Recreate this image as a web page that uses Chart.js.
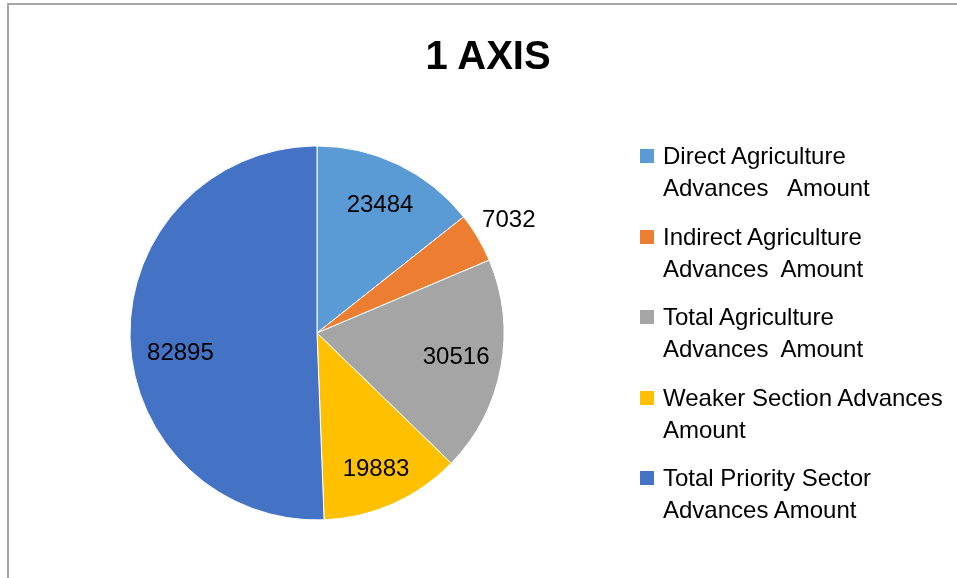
<!DOCTYPE html>
<html>
<head>
<meta charset="utf-8">
<script src="https://cdn.jsdelivr.net/npm/chart.js@4.4.0/dist/chart.umd.min.js"></script>
<style>
  html, body { margin: 0; padding: 0; background: #fff; }
  body { width: 957px; height: 578px; position: relative; overflow: hidden; font-family: "Liberation Sans", Arial, sans-serif; }
  #frame { position: absolute; left: 7px; top: 3px; width: 1000px; height: 700px; border-top: 2px solid #a6a6a6; border-left: 2px solid #a6a6a6; }
  #wrap { position: absolute; left: 0; top: 0; width: 957px; height: 578px; }
  #title { position: absolute; left: 0; width: 976px; top: 30px; text-align: center; font-weight: bold; font-size: 40px; line-height: 50px; color: #000; }
  #legend { position: absolute; left: 640px; top: 140px; }
  .item { position: relative; height: 64px; margin-bottom: 16.5px; padding-left: 23px; font-size: 24px; line-height: 32px; color: #000; white-space: pre; }
  .box { position: absolute; left: 0; top: 9px; width: 14px; height: 14px; }
</style>
</head>
<body>
<div id="frame"></div>
<div id="wrap"><canvas id="myChart" width="957" height="578"></canvas></div>
<div id="title">1 AXIS</div>
<div id="legend"></div>
<script>
const labels = [
  'Direct Agriculture\nAdvances   Amount',
  'Indirect Agriculture\nAdvances  Amount',
  'Total Agriculture\nAdvances  Amount',
  'Weaker Section Advances\nAmount',
  'Total Priority Sector\nAdvances Amount'
];
const amounts = [23484, 7032, 30516, 19883, 82895];
const colors = ['#5b9bd5', '#ed7d31', '#a5a5a5', '#ffc000', '#4472c4'];

// value labels placed like excel "best fit"
const valueLabels = {
  id: 'valueLabels',
  afterDatasetsDraw(chart, args, opts) {
    const ctx = chart.ctx;
    const meta = chart.getDatasetMeta(0);
    ctx.save();
    ctx.font = '24px "Liberation Sans", Arial, sans-serif';
    ctx.fillStyle = '#000';
    ctx.textAlign = 'center';
    ctx.textBaseline = 'middle';
    meta.data.forEach((arc, i) => {
      const p = arc.getProps(['x', 'y', 'startAngle', 'endAngle', 'outerRadius'], true);
      const mid = (p.startAngle + p.endAngle) / 2 + opts.shift[i] * Math.PI / 180;
      const r = p.outerRadius * opts.dist[i];
      ctx.fillText(String(amounts[i]), p.x + Math.cos(mid) * r, p.y + Math.sin(mid) * r);
    });
    ctx.restore();
  }
};

var ctx = document.getElementById('myChart').getContext('2d');
const chart = new Chart(ctx, {
  type: 'pie',
  data: {
    labels: labels,
    datasets: [{
      data: amounts,
      backgroundColor: colors,
      borderColor: '#ffffff',
      borderWidth: 1,
      radius: 187
    }]
  },
  options: {
    responsive: false,
    animation: false,
    layout: { padding: { left: 117, right: 440, top: 133, bottom: 45 } },
    plugins: {
      legend: { display: false },
      tooltip: { enabled: false },
      title: { display: false },
      valueLabels: {
        shift: [0.4, 0.2, -0.8, 0.7, -7.2],
        dist: [0.763, 1.19, 0.755, 0.797, 0.738]
      }
    }
  },
  plugins: [valueLabels]
});

// legend
const legend = document.getElementById('legend');
labels.forEach((l, i) => {
  const item = document.createElement('div');
  item.className = 'item';
  const box = document.createElement('span');
  box.className = 'box';
  box.style.background = colors[i];
  item.appendChild(box);
  item.appendChild(document.createTextNode(l));
  legend.appendChild(item);
});
</script>
</body>
</html>
